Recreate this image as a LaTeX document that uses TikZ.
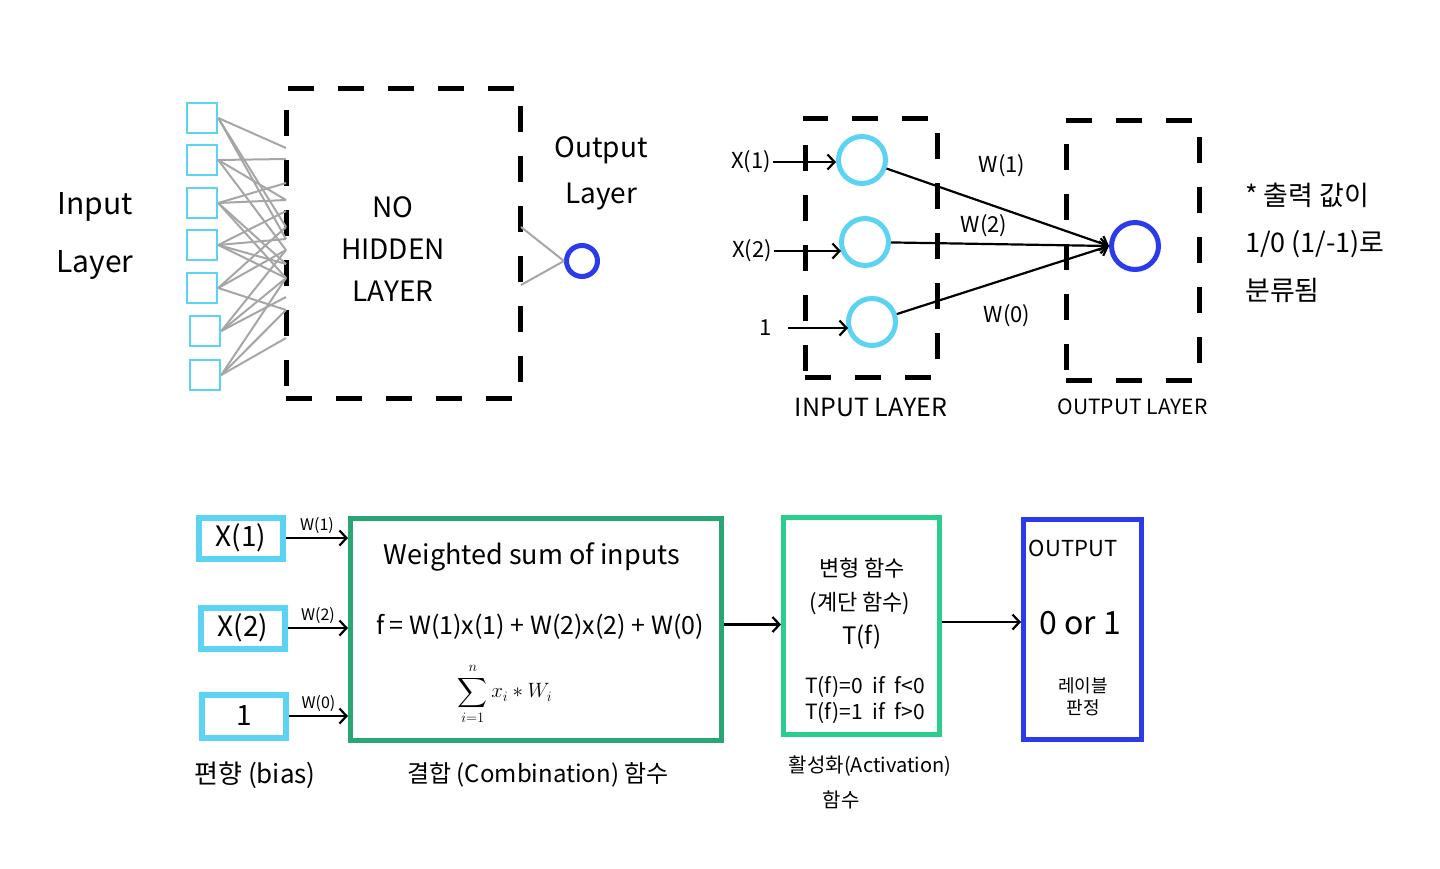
\documentclass[tikz,border=0pt]{standalone}
\usepackage{fontspec}
\setmainfont{Noto Sans CJK KR}
\usepackage{amsmath}
\usepackage{tikz}
\usetikzlibrary{arrows.meta,positioning}
\definecolor{inputcyan}{HTML}{5CD3F2}
\definecolor{outblue}{HTML}{2B3BEB}
\definecolor{combgreen}{HTML}{2AA574}
\definecolor{actgreen}{HTML}{2ACD8E}

\begin{document}
\begin{tikzpicture}[
  x=1pt, y=-1pt,
  txt/.style={inner sep=2pt, align=center, font=\fontsize{#1}{#1}\selectfont},
  inbox/.style={draw=inputcyan, line width=2.5pt, minimum size=30pt, inner sep=0pt},
  wire/.style={draw=gray!70, line width=2pt},
  dashbox/.style={draw, line width=5pt, dash pattern=on 26pt off 24pt, inner sep=0pt},
  incirc/.style={circle, draw=inputcyan, line width=5pt, minimum size=47pt, inner sep=0pt},
  outcirc/.style={circle, draw=outblue, line width=5pt, inner sep=0pt},
  valbox/.style={draw=inputcyan, line width=6pt, minimum width=84pt, minimum height=41pt, inner sep=0pt, font=\fontsize{28}{28}\selectfont},
  stage/.style={draw=#1, line width=5pt, inner sep=0pt},
  arrow/.style={-{Straight Barb[length=7pt,width=15pt]}, line width=2.2pt}
]
\useasboundingbox (0,0) rectangle (1440,868);

% no hidden layer
\foreach \x/\y [count=\k] in {202/118,202/160,202/203,202/245,202/288,205/331,205/375}
  \node[inbox] (i\k) at (\x,\y) {};
\node[dashbox, minimum width=234pt, minimum height=310pt] (nohidden) at (403,243) {};
\foreach \y [count=\k] in {148,159,183,200,211,227,239,250,264,278,297,310,338}
  \coordinate (h\k) at (286,\y);
\foreach \a/\b in {1/1,1/6,1/7,2/2,2/4,2/8,3/3,3/4,3/9,3/10,4/5,4/7,4/9,4/10,
                   5/6,5/8,5/12,6/8,6/10,6/11,7/10,7/12,7/13}
  \draw[wire] (i\a.east) -- (h\b);
\node[txt=30] (inlabel) at (95,236) {Input\\[28pt]Layer};
\node[txt=28] (nhtext) at (393,249) {NO\\[14pt]HIDDEN\\[14pt]LAYER};
\node[txt=28] (outlabel) at (601,173) {Output\\[18pt]Layer};
\node[outcirc, minimum size=31pt] (o1) at (582,261) {};
\coordinate (g1) at (521,227);
\coordinate (g2) at (521,285);
\draw[wire] (g1) -- (o1.west);
\draw[wire] (g2) -- (o1.west);

% perceptron
\node[dashbox, minimum width=132pt, minimum height=259pt] (inlayer) at (871,247.5) {};
\node[dashbox, minimum width=133pt, minimum height=260pt] (outlayer) at (1132.5,250) {};
\node[incirc] (n1) at (862,160) {};
\node[incirc] (n2) at (865,242) {};
\node[incirc] (n3) at (872,322) {};
\node[outcirc, minimum size=47pt] (oc) at (1135,246) {};
\node[txt=22] (x1) at (751,162) {X(1)};
\node[txt=22] (x2) at (752,251) {X(2)};
\node[txt=22] (one) at (766,328) {1};
\draw[arrow] (x1.east) -- (x1.east -| n1.west);
\draw[arrow] (x2.east) -- ([xshift=2pt]x2.east -| n2.west);
\draw[arrow] ([xshift=14pt]one.east) -- ([xshift=2pt]one.east -| n3.west);
\draw[arrow] (n1) -- (oc.west);
\draw[arrow] (n2) -- (oc.west);
\draw[arrow] (n3) -- (oc.west);
\node[txt=22] (w1) at (1002,166) {W(1)};
\node[txt=22] (w2) at (984,226) {W(2)};
\node[txt=22] (w0) at (1007,316) {W(0)};
\node[txt=25, below=16pt of inlayer] (inname) {INPUT LAYER};
\node[txt=21, below=14pt of outlayer] (outname) {OUTPUT LAYER};
\node[txt=27, anchor=west, align=left] (note) at (1243,243)
  {* 출력 값이\\[20pt]1/0 (1/-1)로\\[20pt]분류됨};

% pipeline
\node[valbox] (b1) at (241,538) {X(1)};
\node[valbox] (b2) at (243,628) {X(2)};
\node[valbox, minimum height=43pt] (b3) at (244,716) {1};
\node[stage=combgreen, minimum width=371pt, minimum height=222pt] (comb) at (536,629.5) {};
\node[stage=actgreen, minimum width=156pt, minimum height=217pt] (act) at (861.5,626) {};
\node[stage=outblue, minimum width=118pt, minimum height=220pt] (result) at (1082.5,629.5) {};
\draw[arrow] (b1) -- (b1 -| comb.west) node[midway, above=1pt, txt=16] {W(1)};
\draw[arrow] (b2) -- (b2 -| comb.west) node[midway, above=1pt, txt=16] {W(2)};
\draw[arrow] (b3) -- (b3 -| comb.west) node[midway, above=1pt, txt=16] {W(0)};
\draw[arrow] ([yshift=5pt]comb.east) -- ([yshift=5pt]comb.east -| act.west);
\draw[arrow] ([yshift=4pt]act.east) -- ([yshift=4pt]act.east -| result.west);

\node[txt=27] (wsum) at (532,557) {Weighted sum of inputs};
\node[txt=25] (fexpr) at (540,627) {f = W(1)x(1) + W(2)x(2) + W(0)};
\node[txt=22] (sumx) at (505,694) {$\displaystyle\sum_{i=1}^{n} x_i * W_i$};
\node[txt=22] (tname) at (862,568) {변형 함수};
\node[txt=22] (tstep) at (860,603) {(계단 함수)};
\node[txt=24] (tf) at (862,637) {T(f)};
\node[txt=21] (t0) at (865,687) {T(f)=0~~if~~f<0};
\node[txt=21] (t1) at (865,713) {T(f)=1~~if~~f>0};
\node[txt=22] (otitle) at (1073,548) {OUTPUT};
\node[txt=32] (ovalue) at (1080,623) {0 or 1};
\node[txt=18] (olabel) at (1083,697) {레이블\\[4pt]판정};

\node[txt=26] (biasname) at (255,775) {편향 (bias)};
\node[txt=24] (combname) at (538,775) {결합 (Combination) 함수};
\node[txt=20] (actname) at (870,766) {활성화(Activation)};
\node[txt=20] (actname2) at (841,800) {함수};
\end{tikzpicture}
\end{document}
